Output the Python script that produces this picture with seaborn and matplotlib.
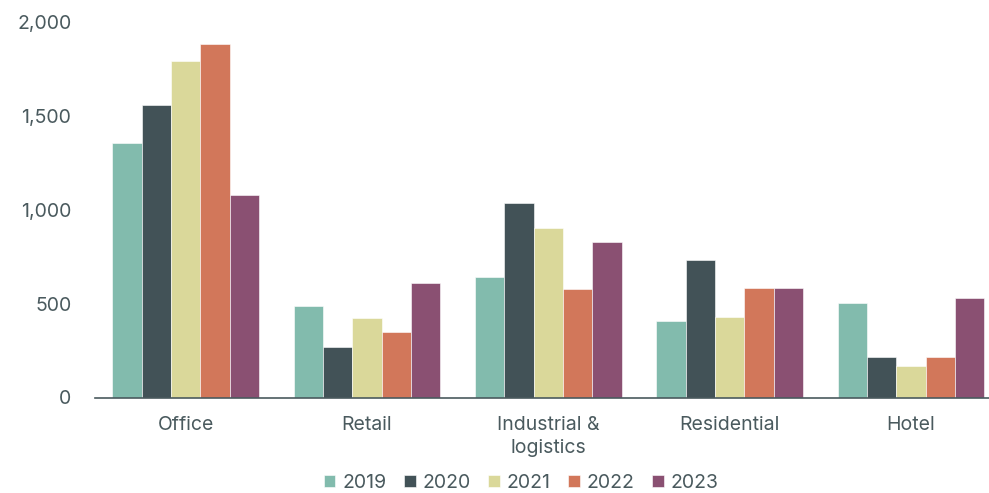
import pandas as pd
import seaborn as sns
import matplotlib.pyplot as plt

# values
sectors = ["Office", "Retail", "Industrial &\nlogistics", "Residential", "Hotel"]
years = ["2019", "2020", "2021", "2022", "2023"]
v2019 = [1356, 489, 644, 410, 505]
v2020 = [1558, 271, 1037, 734, 218]
v2021 = [1793, 426, 904, 431, 170]
v2022 = [1883, 351, 580, 585, 218]
v2023 = [1080, 612, 830, 585, 532]
colors = ["#82BBAD", "#425257", "#DAD89A", "#D2775A", "#8A5072"]

rows = []
for yr, vals in zip(years, [v2019, v2020, v2021, v2022, v2023]):
    for s, v in zip(sectors, vals):
        rows.append({"sector": s, "year": yr, "value": v})
df = pd.DataFrame(rows)

sns.set_style("white")
plt.rcParams["font.family"] = ["Inter", "DejaVu Sans"]
text_col = "#4A5A5E"

fig = plt.figure(figsize=(9.89, 4.93), dpi=100)
ax = fig.add_axes([95 / 989, 95.5 / 493, 894 / 989, 375.5 / 493])

sns.barplot(data=df, x="sector", y="value", hue="year", order=sectors,
            hue_order=years, palette=colors, width=0.81, saturation=1,
            edgecolor="white", linewidth=0.4, ax=ax)

ax.set_ylim(0, 2000)
ax.set_xlim(-0.5, 4.43)
ax.set_yticks([0, 500, 1000, 1500, 2000])
ax.set_yticklabels(["0", "500", "1,000", "1,500", "2,000"])
ax.set_xlabel("")
ax.set_ylabel("")
for sp in ["top", "right", "left"]:
    ax.spines[sp].set_visible(False)
ax.spines["bottom"].set_color(text_col)
ax.spines["bottom"].set_linewidth(1.2)
ax.tick_params(axis="both", length=0, labelsize=14, colors=text_col)
ax.tick_params(axis="y", pad=17)
ax.tick_params(axis="x", pad=13)
for lab in ax.get_xticklabels():
    lab.set_linespacing(1.4)

ax.legend(loc="center", bbox_to_anchor=(426 / 894, -0.228), ncol=5,
          frameon=False, fontsize=14, handlelength=0.6, handleheight=0.6,
          handletextpad=0.35, columnspacing=0.9, labelcolor=text_col)

fig.savefig("out.png", dpi=100)
